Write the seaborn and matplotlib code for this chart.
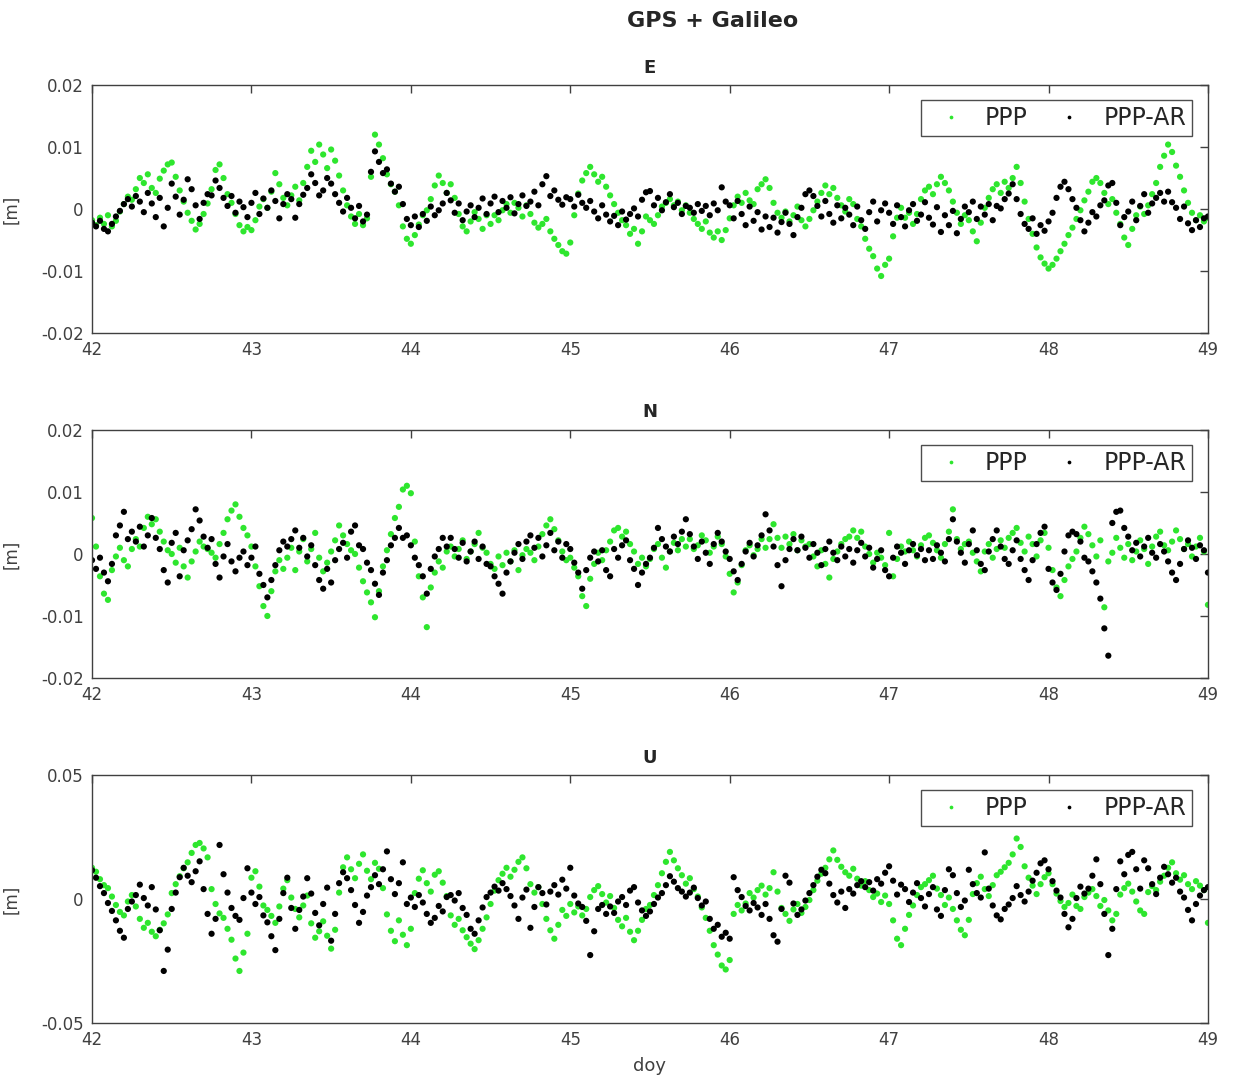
import numpy as np
import pandas as pd
import matplotlib
matplotlib.use('Agg')
import matplotlib.pyplot as plt
import seaborn as sns

# epochs: one sample every 0.025 day (36 min), doy 42 to 49
doy = np.linspace(42, 49, 281)

# residuals in mm
e_ppp = [
    -1.8, -2.6, -1.4, -2.4, -1.0, -2.8, -1.9, -0.4, 0.8, 2.0,
    1.5, 3.2, 5.0, 4.2, 5.6, 3.4, 2.6, 4.9, 6.2, 7.2,
    7.5, 5.2, 3.0, 1.2, -0.6, -1.9, -3.3, -2.4, -0.8, 0.9,
    3.2, 6.3, 7.2, 5.0, 2.4, 1.0, -0.8, -2.6, -3.6, -2.9,
    -3.4, -1.8, 0.4, 1.6, 0.2, 2.8, 5.8, 4.0, 1.8, 0.6,
    2.2, 3.6, 1.4, 4.2, 6.8, 9.4, 7.6, 10.4, 8.8, 6.6,
    9.6, 7.8, 5.4, 3.0, 0.6, -1.2, -2.4, -0.8, -2.6, -1.5,
    5.2, 12.0, 10.4, 8.2, 5.6, 4.0, 2.8, 0.6, -2.8, -4.8,
    -5.6, -4.2, -2.5, -1.0, -0.2, 1.6, 3.8, 5.4, 4.2, 2.6,
    4.0, 1.8, -0.8, -2.8, -3.6, -2.0, -0.5, -1.6, -3.2, -1.0,
    -2.4, -1.0, -1.8, -0.2, 0.8, -0.6, 1.0, 0.2, -1.2, 0.6,
    -0.8, -2.2, -3.0, -2.4, -1.6, -3.6, -4.8, -5.8, -6.8, -7.2,
    -5.4, -1.0, 2.5, 4.6, 5.8, 6.8, 5.6, 4.4, 5.2, 3.6,
    2.2, 0.8, -0.6, -1.8, -2.6, -4.0, -3.2, -5.6, -3.6, -1.2,
    -1.8, -2.4, -1.0, 0.4, 1.0, 1.6, 0.6, 1.2, -0.2, 0.6,
    -0.6, -1.6, -2.4, -3.2, -2.0, -3.8, -4.6, -3.6, -5.0, -3.4,
    -1.5, 0.6, 2.0, 1.0, 2.6, 1.4, 0.8, 3.2, 4.0, 4.8,
    3.4, 1.0, -0.6, -1.4, -0.4, -2.0, -1.0, 0.4, -1.8, -2.8,
    -1.6, -0.2, 1.2, 2.6, 3.8, 2.4, 3.4, 1.8, 0.6, -0.4,
    1.6, 0.8, -1.6, -2.8, -4.8, -6.4, -7.6, -9.6, -10.8, -9.0,
    -8.0, -4.4, -1.4, 0.2, -1.4, -0.6, -2.4, -0.8, 1.6, 3.0,
    3.6, 2.4, 4.0, 5.2, 4.2, 3.0, 1.2, -0.6, -2.4, -1.0,
    -1.8, -3.6, -5.2, -2.2, 0.2, 1.8, 3.2, 4.0, 2.6, 4.4,
    3.4, 5.0, 6.8, 4.2, 1.2, -1.6, -4.0, -6.2, -7.8, -8.8,
    -9.6, -9.0, -8.0, -6.8, -5.6, -4.2, -3.0, -1.6, -0.2, 1.4,
    2.8, 4.4, 5.0, 4.2, 2.6, 0.8, 1.6, -0.6, -2.4, -4.6,
    -5.8, -3.2, -1.0, 0.4, -0.8, 0.6, 2.4, 4.2, 6.8, 8.6,
    10.4, 9.2, 7.0, 5.2, 3.0, 1.0, -0.6, -1.8, -1.0, -2.0,
    -1.4]
e_ar = [
    -2.2, -2.8, -1.9, -3.2, -3.6, -2.4, -1.2, -0.3, 0.8, 1.6,
    0.4, 2.1, 1.2, -0.5, 2.6, 0.9, -1.3, 1.8, -2.8, 0.2,
    4.1, 2.0, -0.9, 1.5, 4.8, 3.2, 0.6, -1.6, 1.0, 2.4,
    2.2, 4.6, 3.4, 1.8, 0.5, 2.1, -0.6, 1.2, 0.3, -1.3,
    1.0, 2.6, -0.8, 1.7, 0.2, 3.0, 1.3, -1.5, 0.8, 2.4,
    1.6, -1.4, 0.8, 2.3, 3.4, 5.6, 4.2, 2.2, 3.0, 5.0,
    4.1, 2.4, 1.0, -0.4, 1.8, 0.2, -1.5, 0.5, -2.0, -0.9,
    6.0, 9.3, 7.6, 5.8, 6.4, 4.1, 2.8, 3.6, 0.8, -1.6,
    -2.6, -1.2, -2.9, -0.8, -1.9, 0.4, -1.0, -0.2, 0.9, 2.6,
    1.4, -0.6, 0.9, -1.8, -0.4, 0.6, -1.3, 0.2, 1.7, -0.8,
    0.9, 2.0, -0.5, 1.3, 0.2, 1.9, -0.7, 0.8, 2.2, 0.5,
    1.2, 2.8, 0.6, 4.0, 5.3, 2.1, 3.0, 1.5, 0.7, 1.9,
    1.6, 0.4, 2.3, 1.0, 0.2, 1.3, -0.4, -1.5, 0.6, -0.9,
    -2.0, -1.1, -2.6, -0.4, -1.7, -0.8, 0.1, -1.2, 1.5, 2.7,
    2.9, 0.6, 1.8, -0.2, 1.1, 2.4, 0.3, 1.0, -0.8, 0.5,
    0.2, -0.6, 0.8, -0.3, 0.5, -1.0, 0.9, -0.2, 3.5, 1.2,
    0.6, -1.5, 1.3, -0.8, -2.6, 0.4, -1.9, -0.5, -3.3, -1.2,
    -2.9, -1.4, -3.8, -2.1, -0.6, -2.4, -4.2, -1.3, 0.2, 2.4,
    3.0, 2.1, 0.5, -1.2, 1.3, -0.8, -2.2, 0.6, -1.5, 0.2,
    -0.9, -2.6, 0.4, -1.8, -3.2, -0.5, 1.2, -2.0, -0.2, 0.9,
    -0.6, -2.4, 0.6, -1.3, -2.8, -0.2, 0.8, -1.9, -0.9, 1.1,
    -1.4, -2.5, 0.3, -3.7, -1.0, -2.6, -0.3, -3.9, -1.6, 0.4,
    -0.5, 1.2, -1.6, 0.4, -0.9, 0.8, -1.8, 0.5, 0.1, 1.6,
    2.5, 4.0, 1.6, -0.8, -2.4, -3.2, -1.5, -4.0, -2.6, -3.5,
    -2.0, -0.6, 1.8, 3.6, 4.4, 3.2, 1.6, 0.2, -1.8, -3.6,
    -2.2, -0.5, -1.2, 0.6, 1.4, 3.8, 4.2, 1.0, -2.6, -1.3,
    -0.4, 1.2, -1.8, 0.5, 2.4, -0.6, 0.9, 1.8, 2.6, 1.2,
    2.8, 1.1, 0.2, -1.6, 0.4, -2.3, -3.4, -1.8, -2.9, -1.5,
    -1.2]

n_ppp = [
    5.8, 1.2, -3.6, -6.4, -7.4, -2.6, -0.4, 1.0, -1.0, -2.0,
    0.8, 2.4, 1.2, 4.2, 6.0, 4.8, 5.6, 3.6, 2.0, 0.6,
    0.0, -1.4, 1.0, -2.0, -3.8, -1.2, 0.4, 2.0, 1.2, 0.8,
    0.2, -0.6, 1.6, 3.4, 5.6, 7.0, 8.0, 6.0, 4.2, 3.0,
    1.2, -2.0, -5.2, -8.4, -10.0, -6.0, -2.8, -1.0, -2.4, -0.6,
    1.0, -2.6, 0.4, 2.4, -1.2, 0.8, 3.4, -0.6, -2.8, -1.4,
    0.4, 2.2, 4.6, 3.0, 1.6, 0.6, 0.0, -2.2, -4.4, -6.2,
    -7.8, -10.2, -6.0, -2.0, 0.6, 3.2, 5.8, 7.6, 10.4, 11.0,
    9.8, 2.0, -3.6, -7.0, -11.8, -5.4, -3.0, -1.2, -2.2, 0.4,
    1.2, -0.4, 0.8, 2.2, -0.8, 0.4, 1.6, 3.4, 1.0, 0.2,
    -1.6, -2.4, -0.4, -1.8, 0.2, -1.2, 0.6, -2.6, -0.2, 0.8,
    0.2, -1.0, 1.2, 3.2, 4.6, 5.6, 4.0, 2.2, 0.4, -1.0,
    -0.6, -2.2, -3.6, -6.8, -8.4, -4.0, -1.6, 0.2, -1.0, 0.6,
    2.0, 3.8, 4.2, 2.8, 3.6, 1.6, 0.4, -1.6, -0.6, -2.0,
    -0.8, 0.8, 1.6, -0.6, -2.2, 0.4, 1.8, 0.6, 2.4, 1.2,
    2.4, 0.8, 1.4, 3.0, 2.2, 0.2, 1.2, 2.8, 1.6, -0.4,
    -3.2, -6.2, -4.6, -1.8, 0.6, 1.4, -0.2, 0.8, 2.4, 1.0,
    2.4, 4.8, 2.6, 1.0, 2.8, 1.6, 3.2, 0.6, 2.2, 1.2,
    1.6, -0.4, -2.0, 0.6, -1.6, -3.8, -0.8, 0.4, 1.6, 2.4,
    2.8, 3.8, 2.6, 3.6, 1.2, 0.0, -1.4, 0.2, -0.6, -1.8,
    3.4, -3.6, -0.8, 1.2, 0.4, 2.0, 0.6, -0.4, 1.4, 2.6,
    3.0, 1.8, 0.6, -0.6, 1.6, 3.6, 7.2, 2.4, 0.8, 1.6,
    2.0, 0.2, -1.2, -2.8, 0.4, 1.6, -0.6, 0.8, 2.2, 1.0,
    2.6, 3.4, 4.2, 1.8, 0.4, 2.8, 1.6, -0.4, 2.2, 3.4,
    1.0, -2.6, -5.4, -6.8, -4.2, -2.0, -0.8, 0.4, 2.6, 4.4,
    3.2, 1.4, -0.4, 2.2, -8.6, -1.2, 0.2, 2.6, 1.0, -0.6,
    1.6, -1.0, 0.4, 2.2, 0.8, -1.6, 1.2, 2.8, 3.6, 1.4,
    0.6, 2.0, 3.8, 2.4, 0.8, 1.6, -0.4, 1.2, 2.6, 0.4,
    -8.2]
n_ar = [
    -1.0, -2.4, -0.6, -3.0, -4.4, -1.6, 3.0, 4.6, 6.8, 2.4,
    3.6, 2.0, 4.4, 1.2, 3.0, 5.8, 2.6, 0.8, -2.6, -4.6,
    1.8, 3.4, -3.6, 0.6, 2.2, 4.0, 7.2, 5.4, 2.8, 1.0,
    2.4, -1.6, -3.8, -0.4, 1.6, -1.2, -2.8, -0.6, 0.4, -1.8,
    -0.6, 1.2, -3.2, -5.0, -7.0, -4.2, -1.8, 0.6, 2.0, 1.2,
    2.4, 3.8, 1.0, 2.6, -0.4, 1.4, -1.8, -4.2, -5.6, -2.4,
    -4.6, -1.0, 0.8, 1.8, -0.6, 3.6, 4.6, 1.4, 0.8, -1.4,
    -2.6, -4.8, -6.6, -3.0, -1.0, 1.4, 2.6, 4.2, 2.6, 3.0,
    1.4, -0.6, -1.8, -3.6, -6.4, -2.4, -0.4, 0.8, 2.6, 1.2,
    2.6, 0.8, -0.6, 1.8, -1.2, 0.4, 2.0, -0.8, 1.2, -1.6,
    -2.0, -3.6, -4.8, -6.4, -3.0, -1.2, 0.2, 1.6, -0.8, 2.0,
    3.0, 1.0, 2.6, -0.4, 1.4, 3.4, 0.6, 2.0, -0.6, 1.6,
    0.8, -1.4, -3.0, -5.6, -2.6, -0.6, 0.4, -1.2, 0.6, -2.6,
    -3.6, 0.8, -0.6, 1.4, 2.2, -1.0, -2.4, -5.0, -3.0, -1.6,
    -0.6, 1.0, 4.2, 2.4, 1.2, 0.4, 2.8, 1.6, 3.6, 5.6,
    3.2, 1.2, -0.8, 2.0, 0.2, -1.6, 1.6, 3.4, 2.0, 0.4,
    -0.8, -2.8, -4.2, -1.6, 0.4, 1.8, -0.4, 1.4, 3.0, 6.4,
    3.8, 1.2, -1.8, -5.2, -1.0, 0.8, 2.4, 0.6, 2.8, 1.0,
    -0.6, 1.6, 0.2, -1.8, 0.8, 2.0, 0.2, -1.0, 1.2, -0.4,
    0.8, -1.4, 0.6, 1.8, -0.4, 1.0, -2.2, -0.8, 0.6, -2.6,
    -3.6, -0.6, 1.2, 0.2, -1.6, 0.6, 1.6, -0.2, 0.8, -1.0,
    0.6, -0.8, 1.4, 0.2, -1.2, 2.4, 5.6, 2.0, 0.2, -1.4,
    1.6, 3.8, 0.6, -1.6, -2.6, 0.4, 2.4, 3.8, 1.2, -0.8,
    -1.6, 0.6, 2.2, -0.8, -2.6, -4.2, -1.0, 1.6, 3.4, 4.4,
    -2.4, -4.6, -5.8, -3.2, 0.4, 3.0, 3.6, 3.2, 2.0, -0.6,
    -1.2, -2.8, -4.6, -7.2, -12.0, -16.4, 5.0, 6.8, 7.0, 4.2,
    2.8, 0.6, 1.8, -0.4, 1.2, 2.6, 0.2, -0.6, 1.6, 0.4,
    -1.2, -3.0, -4.2, -1.6, 0.8, 2.2, 1.0, -0.8, 1.4, 0.6,
    -3.0]

u_ppp = [
    12.6, 11.0, 8.0, 5.6, 4.4, 1.0, -2.4, -5.2, -6.6, -1.0,
    1.6, -3.0, -8.0, -11.6, -9.6, -13.2, -15.0, -12.4, -9.8, -6.2,
    2.4, 6.0, 9.2, 12.4, 14.8, 18.6, 21.8, 22.6, 20.4, 16.8,
    4.0, -2.0, -5.8, -7.6, -12.0, -16.4, -24.0, -29.0, -21.6, -14.0,
    8.6, 11.2, 5.0, -2.6, -4.4, -6.8, -9.6, -3.0, 4.2, 7.6,
    0.6, -4.0, -7.4, -2.6, 1.4, -9.8, -15.6, -13.0, -9.0, -14.8,
    -20.0, -12.4, 2.6, 12.8, 16.8, 12.0, 8.4, 14.2, 18.0, 11.4,
    8.0, 14.6, 12.2, 4.4, -6.2, -12.8, -17.0, -8.6, -14.4, -18.6,
    -12.0, 2.4, 8.2, 11.6, 6.4, 3.0, 9.8, 11.2, 6.6, 1.2,
    -6.6, -10.4, -8.0, -12.6, -15.4, -18.0, -20.2, -16.6, -12.0, -7.4,
    -2.0, 3.4, 7.6, 10.2, 12.6, 9.0, 11.8, 15.0, 16.8, 12.4,
    6.0, 2.6, 4.8, -2.0, -8.0, -12.6, -16.0, -10.4, -4.4, -6.8,
    -2.0, -5.4, -3.0, -6.6, -4.0, 0.8, 3.6, 5.2, 2.0, -1.4,
    1.2, -3.6, -8.4, -11.0, -7.6, -13.2, -16.6, -12.8, -8.4, -4.0,
    -2.4, 1.6, 5.6, 10.4, 15.0, 19.0, 15.6, 12.4, 9.6, 6.2,
    8.4, 4.0, 1.0, -3.4, -7.6, -12.8, -18.6, -22.4, -26.8, -28.4,
    -24.6, -6.0, -2.4, -4.6, -1.8, 2.4, 0.6, 3.6, 5.4, 1.8,
    4.4, 10.8, 3.0, -3.6, -6.0, -8.8, -4.2, -2.0, -5.6, -3.2,
    -0.4, 3.6, 7.4, 10.2, 12.6, 16.0, 19.6, 15.8, 13.0, 10.8,
    9.4, 12.2, 8.2, 5.4, 7.2, 3.6, 0.8, 2.2, -1.2, 1.4,
    -2.0, -8.6, -16.0, -18.6, -12.0, -6.4, -2.6, 1.6, 4.8, 6.0,
    7.6, 9.4, 4.2, 1.6, -2.4, 0.6, -4.0, -8.6, -12.4, -14.6,
    -8.4, 2.0, 6.4, 9.0, 4.0, 1.2, 5.6, 9.6, 11.0, 12.8,
    14.6, 18.0, 24.4, 21.0, 13.2, 8.6, 5.4, 2.0, 6.0, 8.8,
    10.4, 6.0, 2.2, -0.8, -3.2, -1.6, 1.8, -2.8, -4.0, 0.8,
    2.6, 4.0, 1.2, -2.8, -0.4, -4.6, -8.6, -6.0, 1.8, 4.4,
    6.2, 3.0, -1.0, -4.6, -6.0, 2.8, 5.2, 3.6, 7.0, 9.4,
    12.6, 14.8, 10.4, 7.8, 9.6, 6.0, 4.0, 7.2, 5.4, 3.6,
    -9.6]
u_ar = [
    11.6, 8.6, 5.2, 2.4, -1.6, -4.8, -8.6, -12.8, -15.6, -4.0,
    -1.0, 1.6, 5.8, 0.4, -2.6, 4.8, -4.2, -12.6, -29.0, -20.4,
    -4.0, 2.6, 8.8, 12.6, 9.4, 6.8, 11.2, 15.2, 4.0, -6.0,
    -14.0, -8.0, 21.8, 10.0, 2.6, -3.6, -6.8, -8.4, 0.4, 12.4,
    2.6, -2.0, 0.8, -6.6, -9.4, -15.0, -20.6, -8.0, 2.4, 8.6,
    -3.6, -12.0, -4.4, 1.0, 8.4, 2.2, -5.6, -10.6, -2.0, 4.6,
    -16.8, -6.0, 6.4, 10.8, 8.4, 3.6, -2.4, -9.6, -5.2, 1.4,
    4.8, 9.6, 6.0, 12.0, 19.2, 8.0, 2.0, 6.4, 14.8, -2.0,
    0.6, -3.2, 1.6, -1.4, -6.0, -9.6, -7.6, -2.8, -5.0, 0.8,
    1.6, -0.6, 2.4, -3.6, -6.4, -12.0, -14.0, -8.6, -3.4, 0.8,
    2.6, 5.0, 3.4, 6.4, 4.0, 1.2, -2.6, -8.0, 0.6, 3.8,
    -11.6, -3.2, 4.8, 2.4, -2.2, 3.0, 5.6, 1.8, 7.8, 4.2,
    12.6, 1.4, -1.8, -3.2, -8.8, -22.6, -13.0, -4.0, -2.4, -6.0,
    -3.0, -5.6, -1.0, 0.8, -2.4, 3.4, 4.8, -1.4, -4.6, -6.8,
    -5.0, -2.0, 0.6, 2.4, 5.6, 9.2, 7.0, 4.4, 3.0, 1.0,
    2.6, 4.6, 0.4, -2.6, -1.0, -8.0, -12.0, -10.4, -15.2, -13.6,
    -16.0, 8.8, 3.6, 0.8, -2.8, -4.6, -1.6, -3.4, -6.4, -2.0,
    -8.0, -14.6, -17.2, -4.0, 9.4, 6.6, -1.8, -6.4, -4.2, -0.6,
    2.4, 5.6, 9.0, 11.8, 10.4, 6.2, 1.6, -1.4, 3.0, -3.6,
    4.0, 2.2, 5.6, 7.2, 4.8, 6.8, 3.4, 8.0, 6.2, 10.6,
    13.2, 7.4, 1.8, 5.8, 4.0, -1.2, 2.6, 6.4, 0.4, -3.0,
    2.0, 4.8, -4.2, -6.8, 3.6, 12.0, 9.6, 2.4, -3.2, -0.6,
    11.8, 6.0, 2.4, 0.6, 18.8, 4.2, -2.6, -6.6, -8.2, -4.0,
    -2.2, 0.4, 5.2, 1.6, -1.0, 3.0, 7.4, 10.6, 14.4, 15.6,
    12.0, 7.2, 3.4, 0.6, -6.0, -11.4, -8.0, 0.4, 5.0, 2.2,
    4.2, 9.4, 16.0, 6.0, -6.0, -22.6, -12.0, 4.0, 15.2, 10.0,
    17.8, 19.0, 12.0, 4.2, 15.6, 12.4, 6.0, 2.0, 8.6, 13.0,
    10.0, 6.6, 8.6, 3.0, 0.6, -4.4, -8.6, -2.0, 1.4, 3.6,
    4.8]

components = ['E', 'N', 'U']
solutions = ['PPP', 'PPP-AR']
ylims = {'E': 0.02, 'N': 0.02, 'U': 0.05}
yticks = {'E': [-0.02, -0.01, 0, 0.01, 0.02],
          'N': [-0.02, -0.01, 0, 0.01, 0.02],
          'U': [-0.05, 0, 0.05]}
ytick_labels = {'E': ['-0.02', '-0.01', '0', '0.01', '0.02'],
                'N': ['-0.02', '-0.01', '0', '0.01', '0.02'],
                'U': ['-0.05', '0', '0.05']}
xticks = [42, 43, 44, 45, 46, 47, 48, 49]

series = {('E', 'PPP'): e_ppp, ('E', 'PPP-AR'): e_ar,
          ('N', 'PPP'): n_ppp, ('N', 'PPP-AR'): n_ar,
          ('U', 'PPP'): u_ppp, ('U', 'PPP-AR'): u_ar}

frames = []
for (comp, sol), vals in series.items():
    frames.append(pd.DataFrame({'doy': doy, 'res': np.array(vals) / 1000.0,
                                'comp': comp, 'sol': sol}))
data = pd.concat(frames, ignore_index=True)

sns.set_style('white')
plt.rcParams['font.family'] = ['DejaVu Sans']
plt.rcParams['axes.unicode_minus'] = False

palette = {'PPP': '#2ee62e', 'PPP-AR': '#000000'}
grey = '#404040'

fig = plt.figure(figsize=(12.35, 10.82), dpi=100)
bottoms = {'E': 0.6922, 'N': 0.3734, 'U': 0.0545}

for comp in components:
    ax = fig.add_axes([0.0745, bottoms[comp], 0.9036, 0.2292])
    sub = data[data['comp'] == comp]
    sns.scatterplot(data=sub, x='doy', y='res', hue='sol', hue_order=solutions,
                    palette=palette, s=20, linewidth=0, ax=ax)
    ax.set_xlim(42, 49)
    ax.set_ylim(-ylims[comp], ylims[comp])
    ax.set_xticks(xticks)
    ax.set_xticklabels([str(t) for t in xticks])
    ax.set_yticks(yticks[comp])
    ax.set_yticklabels(ytick_labels[comp])
    ax.tick_params(direction='in', top=True, right=True, length=6, width=1,
                   color=grey, labelcolor=grey, labelsize=12, pad=6)
    for sp in ax.spines.values():
        sp.set_color(grey)
        sp.set_linewidth(1.0)
    ax.set_title(comp, fontsize=13, fontweight='bold', pad=9)
    ax.set_ylabel('[m]', fontsize=12, color=grey)
    ax.yaxis.set_label_coords(-0.0645, 0.5)
    if comp == 'U':
        ax.set_xlabel('doy', fontsize=13, color=grey)
        ax.xaxis.set_label_coords(0.5, -0.135)
    else:
        ax.set_xlabel('')
    handles, labels = ax.get_legend_handles_labels()
    ax.legend(handles, labels, ncol=2, loc='upper right',
              bbox_to_anchor=(0.9857, 0.9395), borderaxespad=0,
              frameon=True, fancybox=False, edgecolor='#202020',
              fontsize=17, borderpad=0.25, handletextpad=0.45,
              columnspacing=0.75, markerscale=0.6)
    ax.get_legend().get_frame().set_linewidth(1.0)

fig.text(0.577, 1 - 21 / 1082, 'GPS + Galileo', ha='center', va='center',
         fontsize=16, fontweight='bold')

fig.savefig('out.png', dpi=100)
